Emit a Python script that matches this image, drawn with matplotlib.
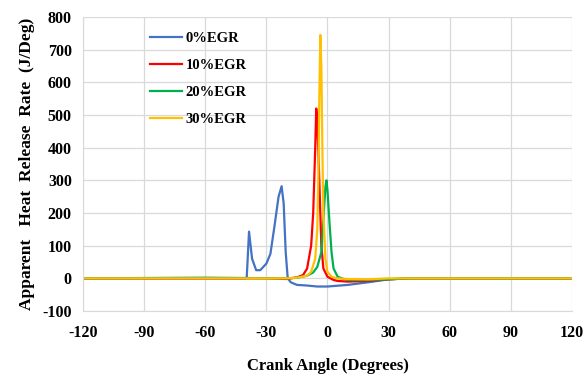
import matplotlib.pyplot as plt

# crank angle (deg) / apparent heat release rate (J/deg)
x_egr0 = [-120, -60, -45, -40, -39.6, -38.5, -37, -35, -33, -30, -28, -26, -24, -22.5,
          -21.5, -20.5, -19.5, -18, -15, -10, -5, 0, 10, 20, 30, 40, 60, 120]
y_egr0 = [0, 0, 0, 0, 5, 143, 60, 25, 25, 45, 75, 160, 250, 282,
          230, 80, 0, -12, -20, -22, -25, -25, -20, -12, -3, 0, 0, 0]

x_egr10 = [-120, -60, -30, -20, -15, -12, -10, -8, -7, -6, -5.5, -5, -4, -3, -2, 0,
           3, 5, 10, 20, 30, 40, 120]
y_egr10 = [0, 0, 0, -2, 3, 10, 30, 100, 200, 400, 520, 480, 300, 100, 30, 5,
           -5, -8, -10, -8, -3, 0, 0]

x_egr20 = [-120, -60, -20, -15, -10, -7, -5, -3, -2, -1, -0.5, 0, 1, 2, 3, 5,
           8, 10, 20, 30, 40, 120]
y_egr20 = [0, 2, 0, 2, 8, 18, 35, 80, 180, 280, 300, 270, 170, 80, 30, 5,
           -2, -5, -5, -3, 0, 0]

x_egr30 = [-120, -60, -20, -15, -10, -8, -6, -5, -4.5, -4, -3.5, -3, -2.5, -2, -1, 0,
           2, 5, 10, 20, 30, 120]
y_egr30 = [0, 0, 0, 2, 8, 20, 60, 150, 300, 550, 745, 650, 400, 200, 60, 20,
           5, 0, -2, -3, 0, 0]

labels = ["0%EGR", "10%EGR", "20%EGR", "30%EGR"]
colors = ["#4472C4", "#FF0000", "#00B050", "#FFC000"]

plt.rcParams['font.family'] = ['Liberation Serif', 'DejaVu Serif']
plt.rcParams['font.weight'] = 'bold'
plt.rcParams['axes.unicode_minus'] = False

fig = plt.figure(figsize=(5.86, 3.74), dpi=100)
ax = fig.add_axes([0.1416, 0.1684, 0.8344, 0.7861])

series = [(x_egr0, y_egr0), (x_egr10, y_egr10), (x_egr20, y_egr20), (x_egr30, y_egr30)]
for (xs, ys), lab, c in zip(series, labels, colors):
    ax.plot(xs, ys, color=c, lw=1.6, label=lab, solid_joinstyle='round')

ax.set_xlim(-120, 120)
ax.set_ylim(-100, 800)
ax.set_xticks(range(-120, 121, 30))
ax.set_yticks(range(-100, 801, 100))
ax.grid(True, color="#D9D9D9", lw=0.9)
ax.set_axisbelow(True)
for s in ["top", "right"]:
    ax.spines[s].set_visible(False)
for s in ["left", "bottom"]:
    ax.spines[s].set_color("#D9D9D9")
ax.tick_params(axis='x', length=0, labelsize=11.5, pad=10)
ax.tick_params(axis='y', length=0, labelsize=11.5, pad=8)
for t in ax.get_xticklabels() + ax.get_yticklabels():
    t.set_fontweight('bold')

ax.set_xlabel("Crank Angle (Degrees)", fontsize=12, fontweight='bold', labelpad=12)
ax.set_ylabel("Apparent   Heat  Release  Rate  (J/Deg)", fontsize=12.5, fontweight='bold',
              labelpad=5)

leg = ax.legend(loc='upper left', bbox_to_anchor=(0.11, 0.995), frameon=False,
                prop={'size': 10.5, 'weight': 'bold'}, handlelength=2.2, labelspacing=0.95,
                handletextpad=0.25)

fig.savefig("out.png", dpi=100)
